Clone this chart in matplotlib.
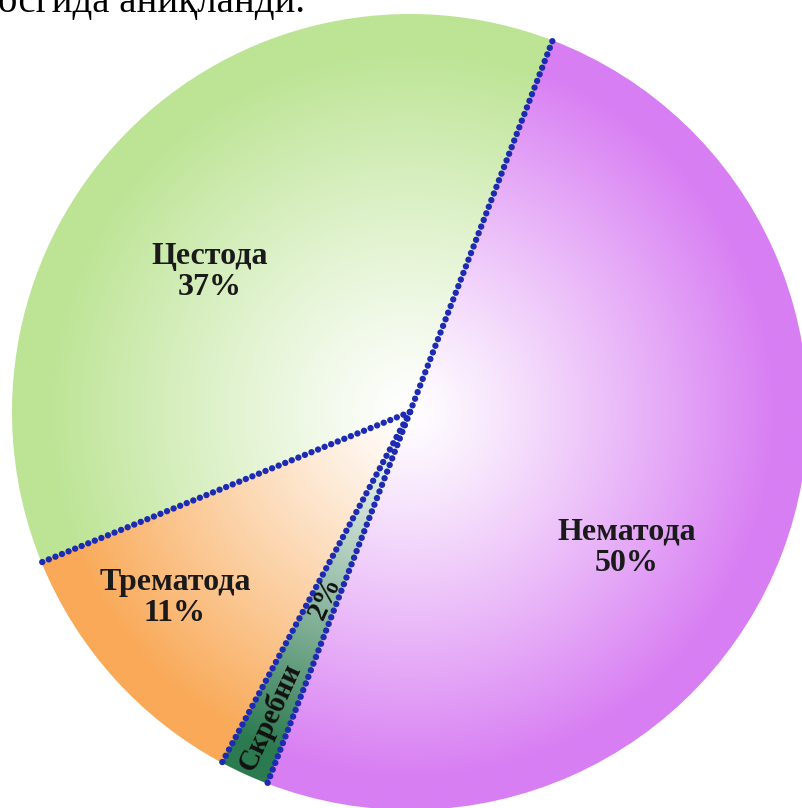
import numpy as np
import matplotlib
matplotlib.use("Agg")
import matplotlib.pyplot as plt
from matplotlib.colors import to_rgb

categories = ["Цестода", "Трематода", "Скребни", "Нематода"]
values = [37, 11, 2, 50]
pct_labels = ["37%", "11%", "2%", "50%"]
colors = ["#bce494", "#f9a957", "#2c7a50", "#d87ef3"]
top_text = "босгида аниқланди."

W, H = 803, 808
fig = plt.figure(figsize=(W / 100, H / 100), dpi=100)
ax = fig.add_axes([0, 0, 1, 1])

cx, cy, R = 410, H - 412, 398
start = 69

wedges, _ = ax.pie(values, radius=R, center=(cx, cy), startangle=start,
                   counterclock=True, frame=True,
                   wedgeprops=dict(edgecolor="none", linewidth=0))
ax.set_xlim(0, W)
ax.set_ylim(0, H)
ax.set_aspect("equal")
ax.axis("off")

# radial gradient fills clipped to each wedge
n = 600
xs = np.linspace(cx - R, cx + R, n)
ys = np.linspace(cy - R, cy + R, n)
X, Y = np.meshgrid(xs, ys)
r = np.sqrt((X - cx) ** 2 + (Y - cy) ** 2) / R
t = np.clip(r / 0.92, 0, 1) ** 1.15
for w, c in zip(wedges, colors):
    w.set_facecolor("none")
    rgb = np.array(to_rgb(c))
    img = (1 - t[..., None]) * np.ones(3) + t[..., None] * rgb
    im = ax.imshow(img, extent=(cx - R, cx + R, cy - R, cy + R),
                   origin="lower", interpolation="bilinear", zorder=1)
    im.set_clip_path(w)

# dotted radial boundaries
angles = start + np.cumsum([0] + values[:-1]) / sum(values) * 360
for a in angles:
    th = np.deg2rad(a)
    ax.plot([cx, cx + R * np.cos(th)], [cy, cy + R * np.sin(th)],
            color="#1d2bb3", lw=4.6, linestyle=(0, (0.01, 1.1)),
            dash_capstyle="round", zorder=3)

font = ["Liberation Serif", "DejaVu Serif"]
lab_pos = [(210, 272), (175, 598), (0, 0), (627, 548)]
for i, (cat, p) in enumerate(zip(categories, pct_labels)):
    if cat == "Скребни":
        continue
    x, y = lab_pos[i]
    ax.text(x, H - y, f"{cat}\n{p}", ha="center", va="center", fontsize=23,
            fontweight="bold", family=font, color="#1a1a1a",
            linespacing=1.12, zorder=4)

# Skrebni labels placed along the middle of the thin wedge
mid = start + (sum(values[:2]) + values[2] / 2) / sum(values) * 360
th = np.deg2rad(mid)
rot = mid - 180
for txt, dist in [(categories[2], 335), (pct_labels[2], 205)]:
    ax.text(cx + dist * np.cos(th), cy + dist * np.sin(th), txt,
            rotation=rot, ha="center", va="center", fontsize=21,
            fontweight="bold", family=font, color="#111111", zorder=4,
            rotation_mode="anchor")

ax.text(305, H - 12, top_text, ha="right", va="baseline", fontsize=28,
        family=font, color="black", zorder=5)

fig.savefig("out.png", dpi=100)
